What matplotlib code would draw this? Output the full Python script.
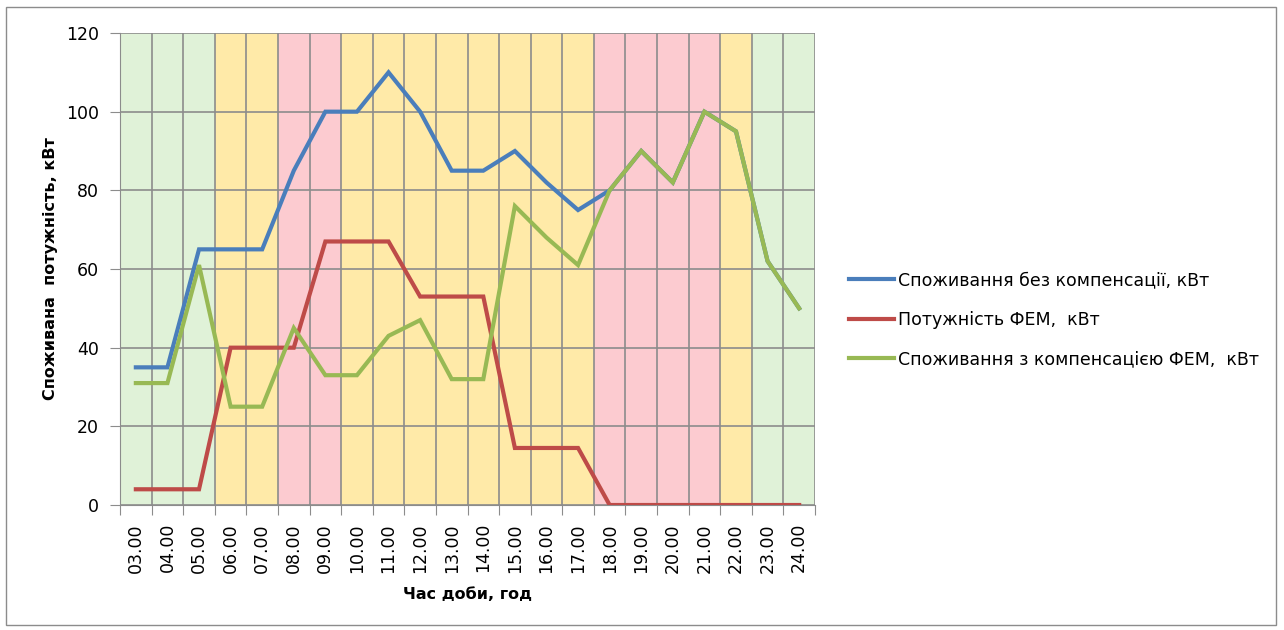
import matplotlib.pyplot as plt
import matplotlib.patches as mpatches
import numpy as np

# hours of the day and tariff zone for each hour
hours = ['03.00', '04.00', '05.00', '06.00', '07.00', '08.00', '09.00', '10.00',
         '11.00', '12.00', '13.00', '14.00', '15.00', '16.00', '17.00', '18.00',
         '19.00', '20.00', '21.00', '22.00', '23.00', '24.00']
zones = ['night', 'night', 'night', 'half', 'half', 'peak', 'peak', 'half',
         'half', 'half', 'half', 'half', 'half', 'half', 'half', 'peak',
         'peak', 'peak', 'peak', 'half', 'night', 'night']

# power, kW
load_no_comp = [35, 35, 65, 65, 65, 85, 100, 100, 110, 100, 85, 85, 90, 82, 75, 80,
                90, 82, 100, 95, 62, 50]
pv_power = [4, 4, 4, 40, 40, 40, 67, 67, 67, 53, 53, 53, 14.5, 14.5, 14.5, 0,
            0, 0, 0, 0, 0, 0]
load_with_pv = [31, 31, 61, 25, 25, 45, 33, 33, 43, 47, 32, 32, 76, 68, 61, 80,
                90, 82, 100, 95, 62, 50]

zone_colors = {'night': '#E0F2D8', 'half': '#FFEAA8', 'peak': '#FCCBD0'}
grid_color = '#8C8C8C'

fig = plt.figure(figsize=(12.84, 6.3), dpi=100)
ax = fig.add_axes([0.0935, 0.1984, 0.5412, 0.7492])

x = np.arange(len(hours))
for i, z in enumerate(zones):
    ax.axvspan(i - 0.5, i + 0.5, color=zone_colors[z], lw=0, zorder=0)

ax.plot(x, load_no_comp, color='#4A7EBB', lw=3, solid_joinstyle='miter',
        label='Споживання без компенсації, кВт', zorder=3)
ax.plot(x, pv_power, color='#BE4B48', lw=3, solid_joinstyle='miter',
        label='Потужність ФЕМ,  кВт', zorder=3)
ax.plot(x, load_with_pv, color='#98B954', lw=3, solid_joinstyle='miter',
        label='Споживання з компенсацією ФЕМ,  кВт', zorder=4)

ax.set_xlim(-0.5, len(hours) - 0.5)
ax.set_ylim(0, 120)
ax.set_yticks(np.arange(0, 121, 20))

# tick marks and gridlines sit on the category borders, labels in the middle
ax.set_xticks(np.arange(-0.5, len(hours)))
ax.set_xticklabels([])
ax.set_xticks(x, minor=True)
ax.set_xticklabels(hours, minor=True, rotation=90, fontsize=12.5)
ax.tick_params(axis='x', which='minor', length=0, pad=13)
ax.tick_params(axis='x', which='major', length=7, color=grid_color)
ax.tick_params(axis='y', length=7, color=grid_color, labelsize=12.5, pad=8)

ax.grid(True, which='major', color=grid_color, lw=1.2, zorder=1)
for s in ax.spines.values():
    s.set_color(grid_color)
ax.spines['top'].set_visible(False)
ax.spines['right'].set_visible(False)

ax.set_xlabel('Час доби, год', fontsize=11.5, fontweight='bold', labelpad=10)
ax.set_ylabel('Споживана  потужність, кВт', fontsize=11.5, fontweight='bold')
ax.yaxis.set_label_coords(-0.09, 0.50)

ax.legend(loc='center left', bbox_to_anchor=(1.027, 0.392), frameon=False,
          fontsize=12.5, handlelength=2.6, handletextpad=0.2, labelspacing=1.24)

# chart frame
fig.patches.append(mpatches.Rectangle((0.005, 0.008), 0.989, 0.981,
                                      transform=fig.transFigure, fill=False,
                                      edgecolor='#8C8C8C', lw=1))

fig.savefig('out.png', dpi=100)
